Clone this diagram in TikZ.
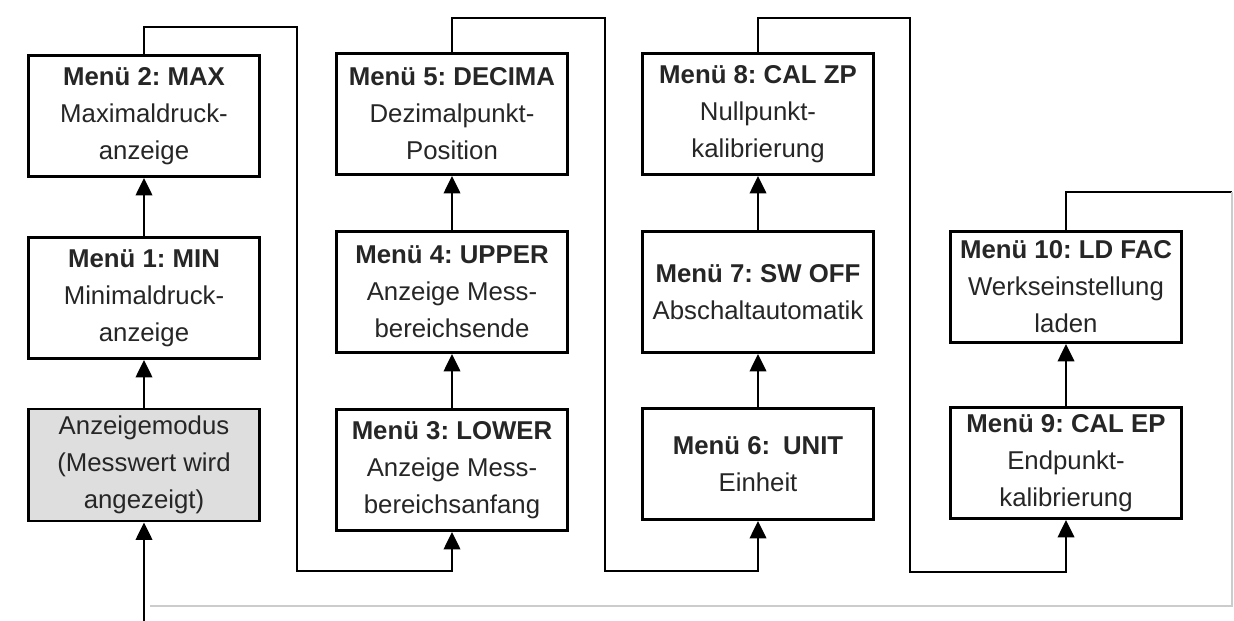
\documentclass[tikz,border=0pt]{standalone}
\usepackage{fontspec}
\setmainfont{Liberation Sans}
\usepackage{xcolor}
\usetikzlibrary{arrows.meta,positioning}

\begin{document}
\frenchspacing
\begin{tikzpicture}[
    x=0.03cm, y=-0.03cm,
    box/.style={draw, line width=2.4pt, minimum width=6.95cm, minimum height=3.63cm, inner sep=0pt, align=center, text=black!85, font=\fontsize{22}{31.5}\selectfont},
    lowbox/.style={box, minimum height=3.33cm},
    arrow/.style={-{Triangle[length=15pt, width=14pt]}, line width=2.4pt},
    faint/.style={line width=1pt, black!20},
]
    \useasboundingbox (0,0) rectangle (1234,621);
    \fill[white] (0,0) rectangle (1234,621);

    % column 1
    \node[box, fill=black!13, minimum height=3.36cm] (anz) at (144,465) {Anzeigemodus\\(Messwert wird\\angezeigt)};
    \node[box] (m1) at (144,298) {\textbf{Menü 1: MIN}\\Minimaldruck-\\anzeige};
    \node[box] (m2) at (144,116) {\textbf{Menü 2: MAX}\\Maximaldruck-\\anzeige};
    % column 2
    \node[box] (m3) at (452,470) {\textbf{Menü 3: LOWER}\\Anzeige Mess-\\bereichsanfang};
    \node[box] (m4) at (452,292) {\textbf{Menü 4: UPPER}\\Anzeige Mess-\\bereichsende};
    \node[box] (m5) at (452,114) {\textbf{Menü 5: DECIMA}\\Dezimalpunkt-\\Position};
    % column 3
    \node[lowbox] (m6) at (758,464) {\textbf{Menü 6:\enspace UNIT}\\Einheit};
    \node[box] (m7) at (758,292) {\textbf{Menü 7: SW OFF}\\Abschaltautomatik};
    \node[box] (m8) at (758,114) {\textbf{Menü 8: CAL ZP}\\Nullpunkt-\\kalibrierung};
    % column 4
    \node[lowbox] (m9) at (1066,463) {\textbf{Menü 9: CAL EP}\\Endpunkt-\\kalibrierung};
    \node[lowbox] (m10) at (1066,287) {\textbf{Menü 10: LD FAC}\\Werkseinstellung\\laden};

    \coordinate (start) at (144,621);
    \coordinate (back) at (1232,192);

    \draw[arrow] (start) -- (anz);
    \draw[arrow] (anz) -- (m1);
    \draw[arrow] (m1) -- (m2);
    \draw[arrow] (m2.north) |- (297,27) -- (297,571) -| (m3.south);
    \draw[arrow] (m3) -- (m4);
    \draw[arrow] (m4) -- (m5);
    \draw[arrow] (m5.north) |- (605,18) -- (605,571) -| (m6.south);
    \draw[arrow] (m6) -- (m7);
    \draw[arrow] (m7) -- (m8);
    \draw[arrow] (m8.north) |- (910,18) -- (910,572) -| (m9.south);
    \draw[arrow] (m9) -- (m10);
    \draw[line width=2.4pt] (m10.north) |- (back);
    \draw[faint] (back) -- (1232,606) -- (150,606);
\end{tikzpicture}
\end{document}
